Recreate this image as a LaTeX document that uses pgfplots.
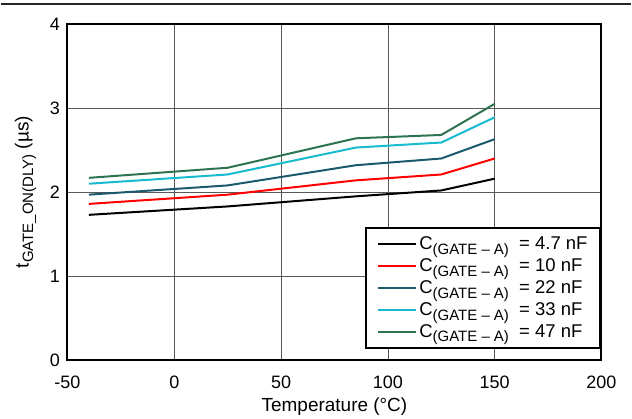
\documentclass[border=0pt]{standalone}
\usepackage{fontspec}
\setmainfont{Liberation Sans}
\usepackage{pgfplots}
\pgfplotsset{compat=1.18}
\definecolor{cteal}{HTML}{1B5A6C}
\definecolor{ccyan}{HTML}{17BBD0}
\definecolor{cgreen}{HTML}{2D7352}
\newcommand{\CG}{C{\fontsize{15}{15}\selectfont\raisebox{-0.3em}{(GATE – A)}}\ \ = }
\begin{document}
\begin{tikzpicture}
\begin{axis}[
  scale only axis, width=535pt, height=337pt,
  xmin=-50, xmax=200, ymin=0, ymax=4,
  xtick={-50,0,50,100,150,200}, ytick={0,1,2,3,4},
  major tick length=0pt,
  grid=major,
  major grid style={gray!70!black, line width=0.6pt},
  axis line style={line width=2pt, black},
  /pgf/number format/assume math mode=true,
  ticklabel style={font=\fontsize{18}{20}\selectfont},
  yticklabel style={xshift=-4pt},
  xticklabel style={yshift=-12pt},
  xlabel={Temperature (°C)},
  ylabel={t{\fontsize{15}{15}\selectfont\raisebox{-0.3em}{GATE\_ON(DLY)}} (µs)},
  label style={font=\fontsize{19}{20}\selectfont},
  xlabel style={yshift=-2pt},
  ylabel style={yshift=7pt},
  clip=false,
  legend style={at={(1,0.034)}, anchor=south east, draw=black, line width=2pt,
    font=\fontsize{18.5}{20}\selectfont, cells={anchor=west},
    row sep=3.5pt, inner xsep=11pt, inner ysep=7pt},
  legend image post style={line width=2pt},
  legend image code/.code={\draw[#1] (0pt,0pt) -- (38pt,0pt);},
  every axis plot/.append style={line width=2pt},
]
\addplot[black] coordinates {(-40,1.73) (25,1.83) (85,1.95) (125,2.02) (150,2.16)};
\addplot[red] coordinates {(-40,1.86) (25,1.97) (85,2.14) (125,2.21) (150,2.40)};
\addplot[cteal] coordinates {(-40,1.97) (25,2.08) (85,2.32) (125,2.40) (150,2.63)};
\addplot[ccyan] coordinates {(-40,2.10) (25,2.21) (85,2.53) (125,2.59) (150,2.89)};
\addplot[cgreen] coordinates {(-40,2.17) (25,2.29) (85,2.64) (125,2.68) (150,3.05)};
\legend{\CG 4.7 nF, \CG 10 nF, \CG 22 nF, \CG 33 nF, \CG 47 nF}
\draw[line width=1.2pt, black!85] (rel axis cs:0,1) ++(-67pt,20pt) -- ++(632pt,0pt);
\path (rel axis cs:0,1) ++(-67pt,24pt) coordinate (bbA);
\path (rel axis cs:1,0) ++(30pt,-55.5pt) coordinate (bbB);
\path (bbA) rectangle (bbB);
\end{axis}
\end{tikzpicture}
\end{document}
